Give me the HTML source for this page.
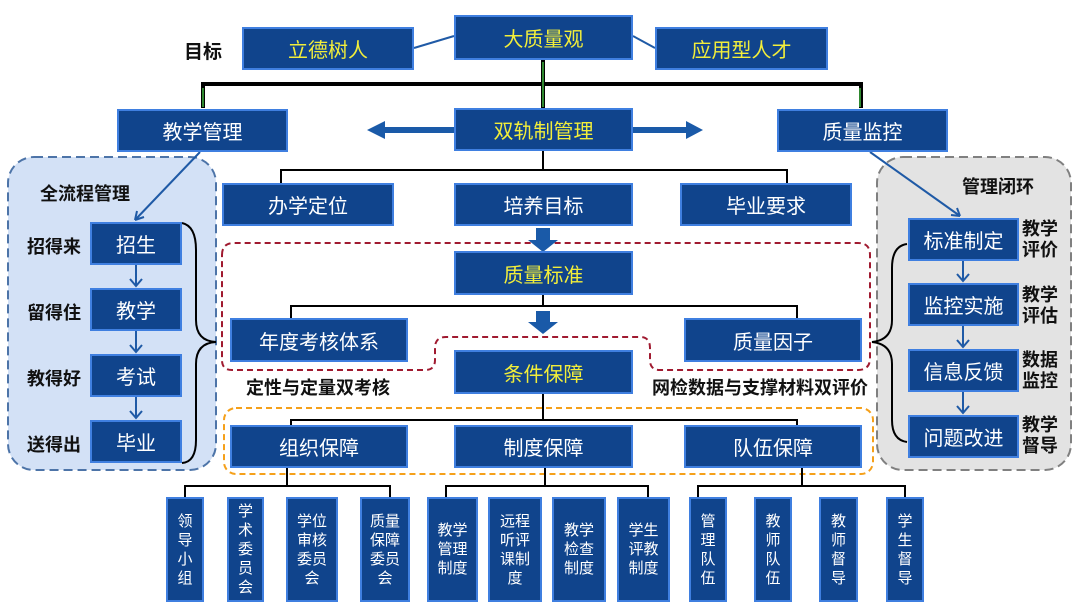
<!DOCTYPE html>
<html><head><meta charset="utf-8"><style>
body{margin:0;width:1080px;height:608px;position:relative;background:#fff;overflow:hidden;font-family:"Liberation Sans","Noto Sans CJK SC",sans-serif}
.b{position:absolute;background:#10448c;border:2px solid #3f7fe0;box-sizing:border-box;color:#fff;display:flex;align-items:center;justify-content:center;font-size:20px;text-align:center}
.y{color:#f2ee3a}
.v{font-size:15px;line-height:19px;align-items:center}
.t{position:absolute;font-weight:bold;color:#111;font-size:18px;white-space:nowrap}
svg{position:absolute;left:0;top:0}
</style></head><body>
<svg width="1080" height="608">
<rect x="8" y="157" width="208" height="313" rx="26" fill="#d3e1f6" stroke="#4d74a8" stroke-width="2" stroke-dasharray="9,5"/>
<rect x="877" y="157" width="194" height="313" rx="26" fill="#e3e3e3" stroke="#808080" stroke-width="2" stroke-dasharray="9,5"/>
<path d="M222 255 Q222 243 234 243 L858 243 Q870 243 870 255 L870 358 Q870 370 858 370 L660 370 Q650 370 650 360 L650 348 Q650 337 640 337 L446 337 Q435 337 435 348 L435 360 Q435 370 425 370 L232 370 Q222 370 222 360 Z" fill="none" stroke="#a01a30" stroke-width="2" stroke-dasharray="6,4"/>
<rect x="224" y="408" width="649" height="66" rx="12" fill="none" stroke="#f5a01a" stroke-width="2" stroke-dasharray="6,4"/>
<g stroke="#000" stroke-width="4" fill="none">
<path d="M203 108 V84 H861 V108"/><path d="M543 60 V108"/>
</g>
<g stroke="#3fb53f" stroke-width="1.5"><path d="M203 88 V107 M543 62 V107 M860 88 V107"/></g>
<line x1="414" y1="48" x2="454" y2="36" stroke="#1f5aa6" stroke-width="2"/>
<line x1="633" y1="36" x2="655" y2="48" stroke="#1f5aa6" stroke-width="2"/>
<path d="M454 127 H385 V121 L367 130 L385 139 V133 H454 Z" fill="#1a5aa8"/>
<path d="M633 127 H686 V121 L703 130 L686 139 V133 H633 Z" fill="#1a5aa8"/>
<g stroke="#000" stroke-width="2" fill="none">
<path d="M543 151 V170 M281 183 V170 H787 V183"/>
<path d="M543 295 V306 M291 318 V306 H797 V318"/>
<path d="M543 394 V420 M291 425 V420 H797 V425"/>
<path d="M287 468 V486 M185 497 V486 H390 V497"/>
<path d="M545 468 V486 M446 497 V486 H648 V497"/>
<path d="M802 468 V486 M698 497 V486 H905 V497"/>
</g>
<path d="M536 228 H550 V240 H558 L543 252 L528 240 H536 Z" fill="#1a5aa8"/>
<path d="M536 311 H550 V322 H558 L543 334 L528 322 H536 Z" fill="#1a5aa8"/>
<g stroke="#1f5aa6" stroke-width="2" fill="none">
<path d="M200 152 L135 220"/><path d="M135 220 l2 -9 M135 220 l9 -3"/>
<path d="M870 152 L960 216"/><path d="M960 216 l-9 -1 M960 216 l-3 -8"/>
<path d="M136 265 V286 M130 279 l6 7 6 -7 M136 331 V352 M130 345 l6 7 6 -7 M136 397 V418 M130 411 l6 7 6 -7"/>
<path d="M963 261 V281 M957 274 l6 7 6 -7 M963 326 V347 M957 340 l6 7 6 -7 M963 392 V413 M957 406 l6 7 6 -7"/>
</g>
<g stroke="#000" stroke-width="2" fill="none">
<path d="M182 223 Q196 226 196 250 L196 320 Q196 341 216 342 Q196 343 196 364 L196 440 Q196 462 182 463"/>
<path d="M907 244 Q892 246 892 268 L892 320 Q892 340 872 342 Q892 344 892 364 L892 420 Q892 440 907 442"/>
</g>
</svg>
<div class="t" style="left:184px;top:37px;font-size:19px">目标</div>
<div class="b y" style="left:242px;top:27px;width:172px;height:43px">立德树人</div>
<div class="b y" style="left:454px;top:15px;width:179px;height:45px">大质量观</div>
<div class="b y" style="left:655px;top:27px;width:173px;height:43px">应用型人才</div>
<div class="b" style="left:117px;top:109px;width:171px;height:43px">教学管理</div>
<div class="b y" style="left:454px;top:108px;width:179px;height:43px">双轨制管理</div>
<div class="b" style="left:777px;top:109px;width:171px;height:43px">质量监控</div>
<div class="b" style="left:222px;top:183px;width:172px;height:43px">办学定位</div>
<div class="b" style="left:454px;top:183px;width:179px;height:43px">培养目标</div>
<div class="b" style="left:680px;top:183px;width:172px;height:43px">毕业要求</div>
<div class="b y" style="left:454px;top:251px;width:179px;height:44px">质量标准</div>
<div class="b" style="left:230px;top:318px;width:178px;height:44px">年度考核体系</div>
<div class="b" style="left:684px;top:318px;width:178px;height:44px">质量因子</div>
<div class="b y" style="left:454px;top:350px;width:179px;height:44px">条件保障</div>
<div class="t" style="left:246px;top:374px">定性与定量双考核</div>
<div class="t" style="left:652px;top:374px">网检数据与支撑材料双评价</div>
<div class="b" style="left:230px;top:425px;width:178px;height:43px">组织保障</div>
<div class="b" style="left:454px;top:425px;width:179px;height:43px">制度保障</div>
<div class="b" style="left:684px;top:425px;width:178px;height:43px">队伍保障</div>
<div class="t" style="left:40px;top:180px">全流程管理</div>
<div class="b" style="left:90px;top:222px;width:92px;height:43px">招生</div>
<div class="b" style="left:90px;top:288px;width:92px;height:43px">教学</div>
<div class="b" style="left:90px;top:354px;width:92px;height:43px">考试</div>
<div class="b" style="left:90px;top:420px;width:92px;height:43px">毕业</div>
<div class="t" style="left:27px;top:233px">招得来</div>
<div class="t" style="left:27px;top:299px">留得住</div>
<div class="t" style="left:27px;top:365px">教得好</div>
<div class="t" style="left:27px;top:431px">送得出</div>
<div class="t" style="left:962px;top:173px">管理闭环</div>
<div class="b" style="left:908px;top:218px;width:111px;height:43px">标准制定</div>
<div class="b" style="left:908px;top:283px;width:111px;height:43px">监控实施</div>
<div class="b" style="left:908px;top:349px;width:111px;height:43px">信息反馈</div>
<div class="b" style="left:908px;top:415px;width:111px;height:43px">问题改进</div>
<div class="t" style="left:1022px;top:219px;line-height:21px">教学<br>评价</div>
<div class="t" style="left:1022px;top:285px;line-height:21px">教学<br>评估</div>
<div class="t" style="left:1022px;top:350px;line-height:21px">数据<br>监控</div>
<div class="t" style="left:1022px;top:415px;line-height:21px">教学<br>督导</div>
<div class="b v" style="left:166px;top:497px;width:38px;height:105px">领<br>导<br>小<br>组</div>
<div class="b v" style="left:227px;top:497px;width:37px;height:105px">学<br>术<br>委<br>员<br>会</div>
<div class="b v" style="left:286px;top:497px;width:52px;height:105px">学位<br>审核<br>委员<br>会</div>
<div class="b v" style="left:360px;top:497px;width:50px;height:105px">质量<br>保障<br>委员<br>会</div>
<div class="b v" style="left:427px;top:497px;width:51px;height:105px">教学<br>管理<br>制度</div>
<div class="b v" style="left:488px;top:497px;width:54px;height:105px">远程<br>听评<br>课制<br>度</div>
<div class="b v" style="left:552px;top:497px;width:54px;height:105px">教学<br>检查<br>制度</div>
<div class="b v" style="left:617px;top:497px;width:53px;height:105px">学生<br>评教<br>制度</div>
<div class="b v" style="left:689px;top:497px;width:38px;height:105px">管<br>理<br>队<br>伍</div>
<div class="b v" style="left:754px;top:497px;width:38px;height:105px">教<br>师<br>队<br>伍</div>
<div class="b v" style="left:819px;top:497px;width:39px;height:105px">教<br>师<br>督<br>导</div>
<div class="b v" style="left:886px;top:497px;width:38px;height:105px">学<br>生<br>督<br>导</div>
</body></html>
